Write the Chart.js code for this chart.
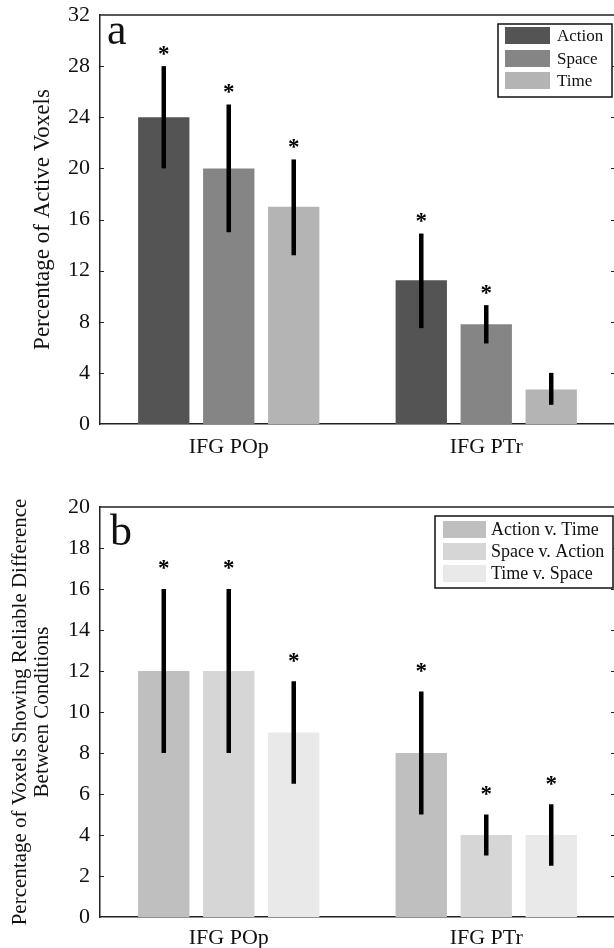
<!DOCTYPE html>
<html>
<head>
<meta charset="utf-8">
<script src="https://cdn.jsdelivr.net/npm/chart.js@4/dist/chart.umd.min.js"></script>
<style>
html,body{margin:0;padding:0;background:#fff;width:614px;height:948px;overflow:hidden;position:relative;}
#wa{position:absolute;left:0;top:0;width:620px;height:470px;}
#wb{position:absolute;left:0;top:480px;width:620px;height:468px;}
</style>
</head>
<body>
<div id="wa"><canvas id="ca"></canvas></div>
<div id="wb"><canvas id="cb"></canvas></div>
<script>
// ---------- data ----------
const categories = ['IFG POp', 'IFG PTr'];

// panel a
const seriesA = ['Action', 'Space', 'Time'];
const actionA = [24.0, 11.25];
const spaceA = [20.0, 7.8];
const timeA = [17.0, 2.7];
const actionErrA = [[20.0, 28.0], [7.5, 14.9]];
const spaceErrA = [[15.0, 25.0], [6.3, 9.3]];
const timeErrA = [[13.2, 20.7], [1.5, 4.0]];
const actionStarA = [true, true];
const spaceStarA = [true, true];
const timeStarA = [true, false];
const yTicksA = [0, 4, 8, 12, 16, 20, 24, 28, 32];
const yTitleA = 'Percentage of Active Voxels';

// panel b
const seriesB = ['Action v. Time', 'Space v. Action', 'Time v. Space'];
const actionTimeB = [12.0, 8.0];
const spaceActionB = [12.0, 4.0];
const timeSpaceB = [9.0, 4.0];
const actionTimeErrB = [[8.0, 16.0], [5.0, 11.0]];
const spaceActionErrB = [[8.0, 16.0], [3.0, 5.0]];
const timeSpaceErrB = [[6.5, 11.5], [2.5, 5.5]];
const actionTimeStarB = [true, true];
const spaceActionStarB = [true, true];
const timeSpaceStarB = [true, true];
const yTicksB = [0, 2, 4, 6, 8, 10, 12, 14, 16, 18, 20];
const yTitleB = ['Percentage of Voxels Showing Reliable Difference', 'Between Conditions'];

// ---------- styling ----------
const SERIF = '"Liberation Serif", "Times New Roman", serif';
const colorsA = ['#545454', '#858585', '#b4b4b4'];
const colorsB = ['#bfbfbf', '#d6d6d6', '#e9e9e9'];
const AXIS = '#222';

const decoPlugin = {
  id: 'deco',
  afterDatasetsDraw(chart, args, opts) {
    const ctx = chart.ctx;
    const ys = chart.scales.y;
    const ca = chart.chartArea;
    ctx.save();
    // frame top & right
    ctx.strokeStyle = AXIS; ctx.lineWidth = 1.5;
    ctx.beginPath();
    ctx.moveTo(ca.left, ca.top); ctx.lineTo(ca.right, ca.top); ctx.lineTo(ca.right, ca.bottom);
    ctx.stroke();
    // inward ticks
    ctx.lineWidth = 1;
    ys.ticks.forEach((t, i) => {
      if (i === 0 || i === ys.ticks.length - 1) return;
      const py = Math.round(ys.getPixelForValue(t.value)) + 0.5;
      ctx.beginPath();
      ctx.moveTo(ca.left, py); ctx.lineTo(ca.left + 4, py);
      ctx.moveTo(ca.right - 4, py); ctx.lineTo(ca.right, py);
      ctx.stroke();
    });
    // error bars and stars
    chart.data.datasets.forEach((ds, di) => {
      const meta = chart.getDatasetMeta(di);
      meta.data.forEach((bar, i) => {
        const [lo, hi] = ds.err[i];
        ctx.strokeStyle = '#000'; ctx.lineWidth = 4.5; ctx.lineCap = 'butt';
        ctx.beginPath();
        ctx.moveTo(bar.x, ys.getPixelForValue(lo));
        ctx.lineTo(bar.x, ys.getPixelForValue(hi));
        ctx.stroke();
        if (ds.star[i]) {
          const cy = ys.getPixelForValue(hi + opts.starOffset);
          ctx.fillStyle = '#000';
          ctx.font = 'bold 23px ' + SERIF;
          ctx.textAlign = 'center'; ctx.textBaseline = 'alphabetic';
          ctx.fillText('*', bar.x, cy + 11);
        }
      });
    });
    // panel letter
    ctx.fillStyle = '#111';
    ctx.font = '44px ' + SERIF;
    ctx.textAlign = 'left'; ctx.textBaseline = 'alphabetic';
    ctx.fillText(opts.letter, opts.letterX, opts.letterY);
    // legend
    const L = opts.legend;
    ctx.fillStyle = '#fff';
    ctx.fillRect(L.x, L.y, L.w, L.h);
    ctx.strokeStyle = '#111'; ctx.lineWidth = 1.5;
    ctx.strokeRect(L.x, L.y, L.w, L.h);
    ctx.font = L.font + 'px ' + SERIF;
    ctx.textBaseline = 'middle';
    chart.data.datasets.forEach((ds, di) => {
      const ry = L.rows[di];
      ctx.fillStyle = ds.backgroundColor;
      ctx.fillRect(L.swX, ry, L.swW, L.rowH);
      ctx.fillStyle = '#111';
      ctx.fillText(ds.label, L.textX, ry + L.rowH / 2 + 1);
    });
    ctx.restore();
  }
};

function makeChart(id, series, values, errs, stars, colors, ticks, yTitle, titleFont, titlePad, titleLH, deco, padTop, xHeight, xPad) {
  const datasets = series.map((s, k) => ({
    label: s,
    data: values[k],
    err: errs[k],
    star: stars[k],
    backgroundColor: colors[k],
    borderWidth: 0,
    barPercentage: 0.79,
    categoryPercentage: 0.757
  }));
  return new Chart(document.getElementById(id), {
    type: 'bar',
    data: { labels: categories, datasets },
    options: {
      responsive: true,
      maintainAspectRatio: false,
      animation: false,
      layout: { padding: { left: 0, right: 5, top: padTop, bottom: 0 } },
      plugins: { legend: { display: false }, tooltip: { enabled: false }, deco },
      scales: {
        x: {
          grid: { display: false, drawTicks: false },
          border: { display: true, color: AXIS, width: 1.5 },
          ticks: { color: '#111', font: { family: SERIF, size: 22 }, padding: xPad },
          afterFit(s) { s.height = xHeight; s.paddingLeft = 0; s.paddingRight = 0; }
        },
        y: {
          min: ticks[0], max: ticks[ticks.length - 1],
          afterBuildTicks(s) { s.ticks = ticks.map(v => ({ value: v })); },
          grid: { display: false, drawTicks: false },
          border: { display: true, color: AXIS, width: 1.5 },
          ticks: { color: '#111', font: { family: SERIF, size: 22 }, padding: 10 },
          title: { display: true, text: yTitle, color: '#111',
                   font: { family: SERIF, size: titleFont, lineHeight: titleLH },
                   padding: { top: titlePad, bottom: 0 } },
          afterFit(s) { s.width = 100; s.paddingTop = 0; s.paddingBottom = 0; }
        }
      }
    },
    plugins: [decoPlugin]
  });
}

makeChart('ca', seriesA, [actionA, spaceA, timeA], [actionErrA, spaceErrA, timeErrA],
  [actionStarA, spaceStarA, timeStarA], colorsA, yTicksA, yTitleA, 23, 29, 1.2,
  { letter: 'a', letterX: 107, letterY: 44, starOffset: 1.3,
    legend: { x: 498, y: 24, w: 114, h: 73, rows: [27, 50, 72], rowH: 17, swX: 505, swW: 45, textX: 557, font: 17 } },
  15, 46, 10);

makeChart('cb', seriesB, [actionTimeB, spaceActionB, timeSpaceB],
  [actionTimeErrB, spaceActionErrB, timeSpaceErrB],
  [actionTimeStarB, spaceActionStarB, timeSpaceStarB], colorsB, yTicksB, yTitleB, 21, 9, 1.05,
  { letter: 'b', letterX: 110, letterY: 65, starOffset: 1.2,
    legend: { x: 435, y: 36, w: 178, h: 72, rows: [41, 63, 85], rowH: 17, swX: 443, swW: 43, textX: 491, font: 18 } },
  27, 31, 8);
</script>
</body>
</html>
